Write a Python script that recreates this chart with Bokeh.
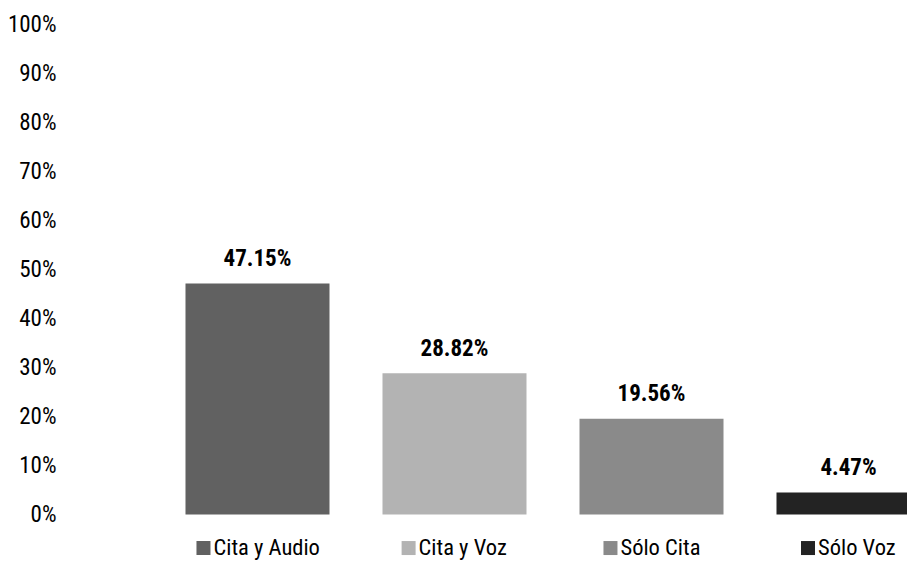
from bokeh.plotting import figure
from bokeh.models import ColumnDataSource, Range1d, FixedTicker, NumeralTickFormatter
from bokeh.core.properties import value
from bokeh.embed import file_html
from bokeh.resources import INLINE

# ---- data ----
categories = ["Cita y Audio", "Cita y Voz", "Sólo Cita", "Sólo Voz"]
shares = [0.4715, 0.2882, 0.1956, 0.0447]
share_labels = ["47.15%", "28.82%", "19.56%", "4.47%"]
bar_colors = ["#616161", "#b3b3b3", "#8a8a8a", "#232323"]
y_ticks = [0.0, 0.1, 0.2, 0.3, 0.4, 0.5, 0.6, 0.7, 0.8, 0.9, 1.0]

FONT = "Roboto Condensed, Liberation Sans Narrow, Arial Narrow, sans-serif"
FS = 23      # px, axis and value labels
FS_LEG = 22.5  # px, category labels
PX_PER_UNIT = 197.0  # approximate horizontal scale of the frame

# approximate advance widths (per 1000 em, Arial-like) for centering legend groups
_adv = {"C": 722, "i": 222, "t": 278, "a": 556, " ": 278, "y": 500, "A": 667, "u": 556,
        "d": 556, "o": 556, "V": 667, "z": 500, "S": 667, "ó": 556, "l": 222}


def text_width(s):
    return sum(_adv.get(c, 556) for c in s) * 0.866 * FS_LEG / 1000.0


SQ = 14
GAP = 3
xs = list(range(len(categories)))
group_w = [SQ + GAP + text_width(c) for c in categories]
sq_x = [x + (-g / 2 + SQ / 2) / PX_PER_UNIT for x, g in zip(xs, group_w)]
txt_off = [-g / 2 + SQ + GAP for g in group_w]

src = ColumnDataSource(dict(x=xs, top=shares, lab=share_labels, color=bar_colors,
                            cat=categories, sq_x=sq_x, txt_off=txt_off,
                            leg_y=[-0.0673] * len(xs), sq_y=[-0.0684] * len(xs)))

p = figure(width=907, height=564, output_backend="svg", toolbar_location=None,
           x_range=Range1d(-0.9695, 3.2995), y_range=Range1d(-0.1020, 1.049),
           x_axis_location=None, min_border=0, min_border_left=66)
p.outline_line_color = None
p.grid.visible = False
p.background_fill_color = "white"
p.border_fill_color = "white"

yax = p.yaxis[0]
yax.ticker = FixedTicker(ticks=y_ticks)
yax.formatter = NumeralTickFormatter(format="0%")
yax.axis_line_color = None
yax.major_tick_line_color = None
yax.minor_tick_line_color = None
yax.major_tick_out = 0
yax.major_tick_in = 0
yax.major_label_standoff = 10
yax.major_label_text_font = FONT
yax.major_label_text_font_size = f"{FS}px"
yax.major_label_text_font_style = "normal"
yax.major_label_text_color = "#000000"

p.vbar(x="x", top="top", bottom=0, width=0.731, color="color", source=src, line_color=None)

p.text(x="x", y="top", text="lab", source=src, y_offset=-25,
       text_align="center", text_baseline="alphabetic",
       text_font=value(FONT), text_font_size=f"{FS}px", text_font_style="bold",
       text_color="#000000")

p.scatter(x="sq_x", y="sq_y", marker="square", size=SQ,
          fill_color="color", line_color=None, source=src)
p.text(x="x", y="leg_y", text="cat", source=src, x_offset="txt_off",
       text_align="left", text_baseline="alphabetic",
       text_font=value(FONT), text_font_size=f"{FS_LEG}px", text_color="#000000")

open("out.html", "w").write(file_html(p, INLINE))
